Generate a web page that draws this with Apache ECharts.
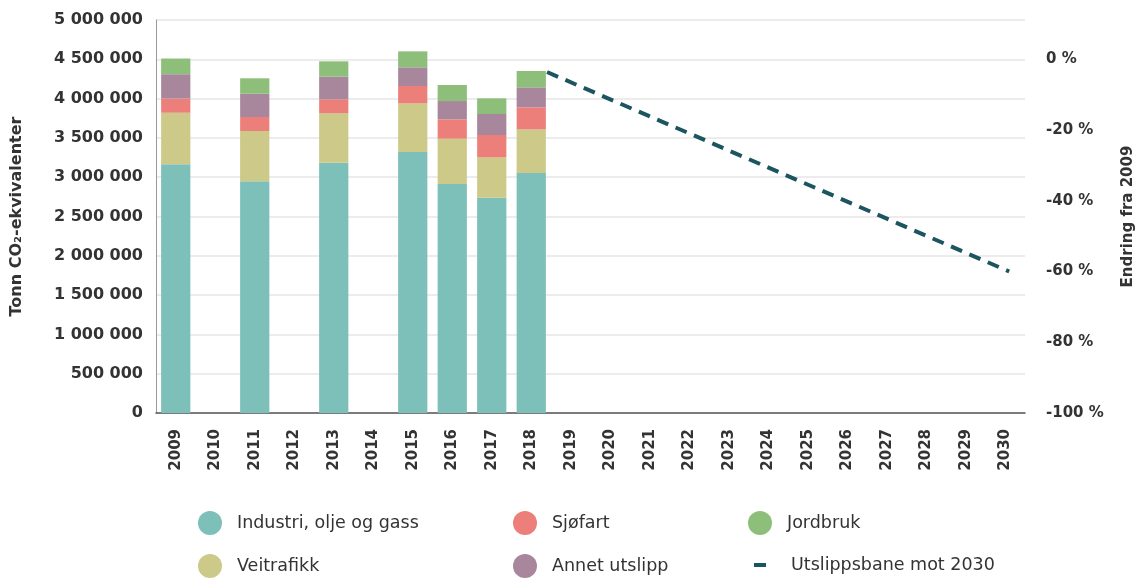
<!DOCTYPE html>
<html>
<head>
<meta charset="utf-8">
<script src="https://cdn.jsdelivr.net/npm/echarts@6/dist/echarts.min.js"></script>
<style>
  html, body { margin: 0; padding: 0; background: #fff; }
  #chart { width: 1135px; height: 581px; }
</style>
</head>
<body>
<div id="chart"></div>
<script>
const years = ["2009", "2010", "2011", "2012", "2013", "2014", "2015", "2016", "2017", "2018",
  "2019", "2020", "2021", "2022", "2023", "2024", "2025", "2026", "2027", "2028", "2029", "2030"];

// tonn CO2-ekv. per sektor (null = ingen data)
const industri = [3165000, null, 2948000, null, 3184000, null, 3322000, 2913000, 2739000, 3052000];
const veitrafikk = [655000, null, 640000, null, 629000, null, 618000, 577000, 514000, 557000];
const sjofart = [180000, null, 178000, null, 178000, null, 220000, 246000, 284000, 280000];
const annet = [310000, null, 296000, null, 288000, null, 238000, 233000, 267000, 254000];
const jordbruk = [200000, null, 196000, null, 195000, null, 203000, 204000, 199000, 208000];

// utslippsbane, endring fra 2009 i prosent
const baneAar = [2018.4, 2030.1];
const baneProsent = [-3.6, -60];

const leftTicks = { min: 0, max: 5000000, interval: 500000 };
const rightTicks = { min: -100, max: 100 / 9, interval: 20 };

const colors = {
  industri: "#7dbfb9",
  veitrafikk: "#cdc988",
  sjofart: "#ec7f79",
  annet: "#a8869c",
  jordbruk: "#8dbe7a",
  bane: "#1b5560"
};

const font = "'DejaVu Sans', sans-serif";
const textColor = "#333";

function spaced(v) {
  return String(v).replace(/\B(?=(\d{3})+(?!\d))/g, " ");
}

function barSeries(name, data, color) {
  return {
    name: name,
    type: "bar",
    stack: "total",
    barWidth: "74%",
    data: data,
    itemStyle: { color: color },
    emphasis: { disabled: true }
  };
}

const chart = echarts.init(document.getElementById("chart"));

// en legende per element, plassert i tre kolonner og to rader
function legendItem(name, left, top, icon, w, h, pad) {
  return {
    left: left,
    top: top,
    padding: 0,
    itemWidth: w || 24,
    itemHeight: h || 24,
    itemGap: 0,
    textStyle: {
      fontFamily: font, fontSize: 17.5, color: textColor,
      padding: [0, 0, 0, pad || 10]
    },
    data: [{ name: name, icon: icon || "circle" }]
  };
}

chart.setOption({
  animation: false,
  grid: { left: 156, right: 110, top: 20, bottom: 168, outerBoundsMode: "none" },
  legend: [
    legendItem("Industri, olje og gass", 198, 511),
    legendItem("Veitrafikk", 198, 554),
    legendItem("Sjøfart", 513, 511),
    legendItem("Annet utslipp", 513, 554),
    legendItem("Jordbruk", 748, 511),
    legendItem("Utslippsbane mot 2030", 754, 556, "rect", 12, 4, 20)
  ],
  xAxis: [
    {
      type: "category",
      data: years,
      axisLine: { lineStyle: { color: "#555", width: 1.5 } },
      axisTick: { inside: true, length: 8, lineStyle: { color: "#555" } },
      axisLabel: {
        rotate: 90,
        fontFamily: font,
        fontSize: 15,
        fontWeight: "bold",
        color: textColor,
        margin: 16
      }
    },
    {
      type: "value",
      min: 2008.5,
      max: 2030.5,
      show: false
    }
  ],
  yAxis: [
    {
      type: "value",
      min: leftTicks.min,
      max: leftTicks.max,
      interval: leftTicks.interval,
      name: "Tonn CO₂-ekvivalenter",
      nameLocation: "middle",
      nameRotate: 90,
      nameGap: 131,
      nameTextStyle: { fontFamily: font, fontSize: 16, fontWeight: "bold", color: textColor },
      axisLine: { show: true, lineStyle: { color: "#999" } },
      axisTick: { show: false },
      splitLine: { lineStyle: { color: "#e6e6e6", width: 1.5 } },
      axisLabel: {
        fontFamily: font,
        fontSize: 16,
        fontWeight: "bold",
        color: textColor,
        margin: 13,
        formatter: spaced
      }
    },
    {
      type: "value",
      position: "right",
      min: rightTicks.min,
      max: rightTicks.max,
      interval: rightTicks.interval,
      name: "Endring fra 2009",
      nameLocation: "middle",
      nameRotate: 90,
      nameGap: 96,
      nameTextStyle: { fontFamily: font, fontSize: 15, fontWeight: "bold", color: textColor },
      axisLine: { show: false },
      axisTick: { show: false },
      splitLine: { show: false },
      axisLabel: {
        showMaxLabel: false,
        fontFamily: font,
        fontSize: 15,
        fontWeight: "bold",
        color: textColor,
        margin: 21,
        formatter: v => v + " %"
      }
    }
  ],
  series: [
    barSeries("Industri, olje og gass", industri, colors.industri),
    barSeries("Veitrafikk", veitrafikk, colors.veitrafikk),
    barSeries("Sjøfart", sjofart, colors.sjofart),
    barSeries("Annet utslipp", annet, colors.annet),
    barSeries("Jordbruk", jordbruk, colors.jordbruk),
    {
      name: "Utslippsbane mot 2030",
      type: "line",
      xAxisIndex: 1,
      yAxisIndex: 1,
      data: baneAar.map((a, i) => [a, baneProsent[i]]),
      symbol: "none",
      itemStyle: { color: colors.bane },
      lineStyle: { color: colors.bane, width: 4, type: [12, 8] },
      z: 5
    }
  ]
});
</script>
</body>
</html>
